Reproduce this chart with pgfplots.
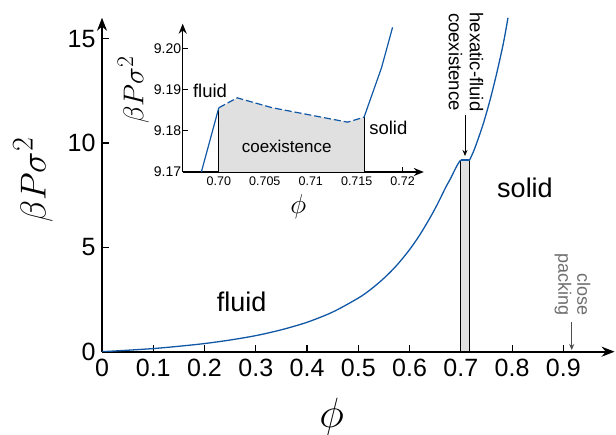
\documentclass[border=0pt]{standalone}
\usepackage{pgfplots}
\pgfplotsset{compat=1.18}
\usepackage{fontspec}
\setmainfont{Liberation Sans}
\usetikzlibrary{arrows.meta}

\definecolor{curveblue}{RGB}{16,87,166}
\definecolor{coexgray}{RGB}{224,224,224}
\definecolor{cpgray}{RGB}{110,110,110}

\begin{document}
\begin{tikzpicture}
\path[use as bounding box] (0,0) rectangle (616pt,435pt);

% main equation of state
\begin{axis}[
  at={(102pt,83.3pt)}, anchor=south west,
  scale only axis,
  width=512.6pt, height=333.9pt,
  xmin=0, xmax=1, ymin=0, ymax=16,
  enlargelimits=false,
  axis lines=left,
  axis line style={line width=1.8pt, -{Stealth[length=13pt,width=10pt]}},
  xtick={0,0.1,0.2,0.3,0.4,0.5,0.6,0.7,0.8,0.9},
  xticklabels={0,0.1,0.2,0.3,0.4,0.5,0.6,0.7,0.8,0.9},
  ytick={0,5,10,15},
  tick align=inside,
  major tick length=7pt,
  tick style={line width=1.1pt, black},
  /pgf/number format/assume math mode=true,
  ticklabel style={font=\fontsize{25}{25}\selectfont},
  xticklabel style={yshift=-4pt},
  yticklabel style={xshift=-3pt},
]
\addplot[fill=coexgray, draw=black, line width=0.8pt]
  coordinates {(0.699,0) (0.699,9.18) (0.717,9.18) (0.717,0)} -- cycle;
\addplot[curveblue, line width=1.3pt, smooth] coordinates {
  (0,0) (0.05,0.07) (0.1,0.15) (0.15,0.26) (0.2,0.39) (0.25,0.56)
  (0.3,0.77) (0.35,1.05) (0.4,1.41) (0.45,1.90) (0.5,2.57) (0.525,3.00)
  (0.55,3.52) (0.575,4.14) (0.6,4.89) (0.62,5.60) (0.64,6.42) (0.655,7.10)
  (0.67,7.85) (0.68,8.30) (0.689,8.75) (0.695,9.02) (0.699,9.16) (0.7,9.18)
};
\addplot[curveblue, line width=1.3pt] coordinates {(0.7,9.18) (0.717,9.18)};
\addplot[curveblue, line width=1.3pt, smooth] coordinates {
  (0.717,9.18) (0.724,9.55) (0.731,10.0) (0.744,10.94) (0.757,12.06)
  (0.770,13.34) (0.783,14.78) (0.792,16.0)
};
\end{axis}

% inset: coexistence region
\begin{axis}[
  at={(182.7pt,263pt)}, anchor=south west,
  scale only axis,
  width=241.1pt, height=148.3pt,
  xmin=0.69607, xmax=0.7223, ymin=9.17, ymax=9.206,
  enlargelimits=false,
  axis lines=left,
  axis line style={line width=1.3pt, -{Stealth[length=10pt,width=8pt]}},
  xtick={0.70,0.705,0.71,0.715,0.72},
  xticklabels={0.70,0.705,0.71,0.715,0.72},
  ytick={9.17,9.18,9.19,9.20},
  yticklabels={9.17,9.18,9.19,9.20},
  tick align=inside,
  major tick length=5pt,
  tick style={line width=0.9pt, black},
  xticklabel style={font=\fontsize{12.5}{12.5}\selectfont, yshift=-1pt},
  yticklabel style={font=\fontsize{14}{14}\selectfont, xshift=2pt},
]
\addplot[fill=coexgray, draw=none] coordinates {
  (0.700,9.17) (0.700,9.1856) (0.702,9.1880) (0.7058,9.1856)
  (0.714,9.1821) (0.7158,9.1833) (0.7158,9.17)
} -- cycle;
\addplot[black, line width=1pt] coordinates {(0.700,9.17) (0.700,9.1856)};
\addplot[black, line width=1pt] coordinates {(0.7158,9.17) (0.7158,9.1833)};
\addplot[curveblue, line width=1.2pt, dash pattern=on 7pt off 3pt] coordinates {
  (0.700,9.1856) (0.702,9.1880) (0.7058,9.1856) (0.714,9.1821) (0.7158,9.1833)
};
\addplot[curveblue, line width=1.2pt] coordinates {(0.6981,9.17) (0.700,9.1856)};
\addplot[curveblue, line width=1.2pt] coordinates {
  (0.7158,9.1833) (0.7177,9.1953) (0.7189,9.2051)
};
\end{axis}

% axis labels (math at \Huge, then scaled)
\node[rotate=90, font=\Huge, scale=1.45] at (33pt,255pt) {$\beta P\sigma^2$};
\node[font=\Huge, scale=1.7] at (331.7pt,18.3pt) {$\phi$};
\node[rotate=90, font=\Huge, scale=1.15] at (133.3pt,345pt) {$\beta P\sigma^2$};
\node[font=\Huge, scale=1.1] at (298.3pt,228.3pt) {$\phi$};

% phase annotations
\node[font=\fontsize{27}{27}\selectfont] at (241.7pt,133.3pt) {fluid};
\node[font=\fontsize{27}{27}\selectfont] at (525pt,246.7pt) {solid};
\node[font=\fontsize{18.5}{18.5}\selectfont] at (210pt,344.3pt) {fluid};
\node[font=\fontsize{18.5}{18.5}\selectfont] at (388.3pt,306.7pt) {solid};
\node[font=\fontsize{17}{17}\selectfont] at (286.7pt,288.3pt) {coexistence};

\node[rotate=-90, align=center, font=\fontsize{18.5}{21}\selectfont] at (466pt,373pt) {hexatic-fluid\\coexistence};
\draw[line width=0.8pt, -{Stealth[length=6pt,width=5pt]}] (465pt,320pt) -- (465pt,279pt);

\node[rotate=-90, align=right, text=cpgray, font=\fontsize{18}{19}\selectfont] at (572.5pt,150.5pt) {close\\packing};
\draw[cpgray!70!black, line width=0.8pt, -{Stealth[length=6pt,width=5pt]}] (571.7pt,113pt) -- (571.7pt,85pt);
\end{tikzpicture}
\end{document}
